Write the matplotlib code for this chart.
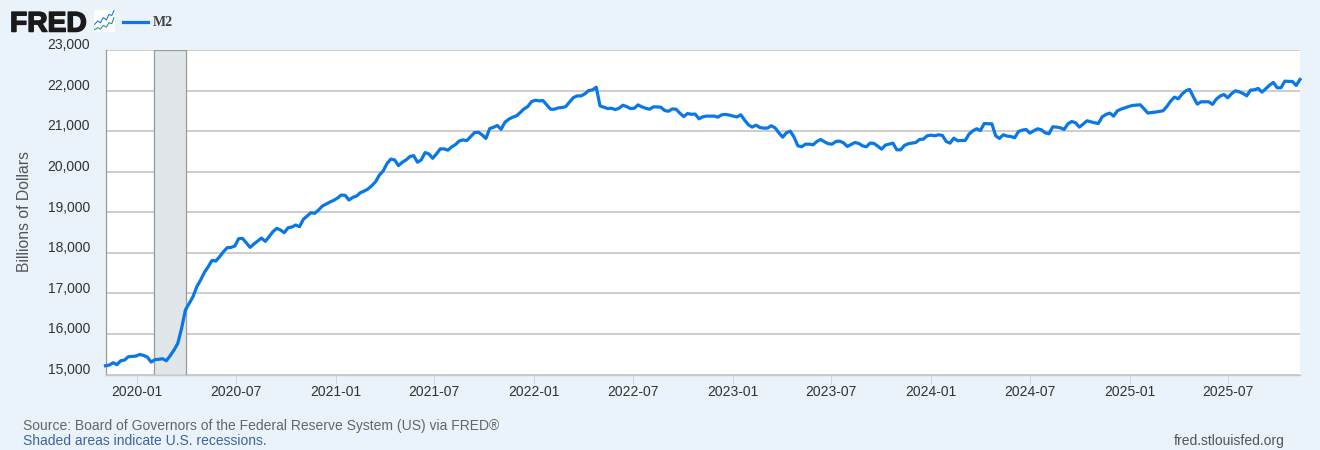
import pandas as pd
import matplotlib
matplotlib.use('Agg')
import matplotlib.pyplot as plt
import matplotlib.patheffects as pe
from matplotlib.patches import Rectangle
from matplotlib.transforms import ScaledTranslation

# weekly M2
start_date = '2019-11-04'
m2 = [15216, 15232, 15290, 15241, 15339, 15356, 15438, 15446, 15454, 15495,
      15470, 15430, 15306, 15364, 15375, 15389, 15339, 15463, 15602, 15767,
      16137, 16589, 16753, 16918, 17164, 17329, 17518, 17657, 17813, 17797,
      17904, 18027, 18126, 18134, 18167, 18348, 18356, 18249, 18134, 18216,
      18290, 18364, 18282, 18397, 18520, 18603, 18562, 18496, 18619, 18636,
      18685, 18644, 18825, 18907, 18989, 18973, 19055, 19153, 19203, 19252,
      19293, 19351, 19425, 19417, 19301, 19367, 19400, 19482, 19523, 19573,
      19655, 19753, 19918, 20020, 20200, 20310, 20290, 20150, 20230, 20290,
      20372, 20397, 20233, 20290, 20471, 20438, 20330, 20438, 20562, 20562,
      20530, 20611, 20668, 20759, 20783, 20767, 20866, 20964, 20973, 20907,
      20820, 21063, 21096, 21137, 21046, 21219, 21293, 21342, 21375, 21457,
      21548, 21605, 21729, 21762, 21745, 21753, 21647, 21540, 21540, 21573,
      21581, 21605, 21720, 21827, 21868, 21868, 21918, 22000, 22016, 22082,
      21622, 21589, 21556, 21564, 21531, 21564, 21638, 21605, 21556, 21564,
      21647, 21597, 21564, 21540, 21597, 21597, 21589, 21507, 21490, 21548,
      21540, 21441, 21359, 21433, 21416, 21420, 21304, 21353, 21370, 21370,
      21370, 21345, 21403, 21411, 21395, 21370, 21350, 21403, 21271, 21156,
      21099, 21148, 21090, 21074, 21074, 21132, 21082, 20959, 20852, 20959,
      21000, 20852, 20638, 20614, 20679, 20679, 20663, 20745, 20794, 20737,
      20688, 20679, 20745, 20753, 20712, 20622, 20671, 20720, 20696, 20638,
      20614, 20704, 20696, 20630, 20556, 20655, 20679, 20704, 20540, 20540,
      20647, 20688, 20704, 20720, 20794, 20803, 20885, 20901, 20885, 20910,
      20893, 20745, 20704, 20827, 20762, 20770, 20770, 20926, 21008, 21058,
      21016, 21189, 21181, 21181, 20885, 20819, 20910, 20877, 20868, 20836,
      20992, 21025, 21041, 20951, 21008, 21058, 21033, 20959, 20934, 21107,
      21099, 21082, 21041, 21181, 21238, 21205, 21099, 21173, 21255, 21230,
      21205, 21189, 21353, 21411, 21444, 21370, 21501, 21543, 21575, 21608,
      21633, 21641, 21649, 21551, 21444, 21460, 21469, 21485, 21501, 21608,
      21740, 21838, 21797, 21912, 21995, 22028, 21838, 21666, 21723, 21723,
      21723, 21658, 21789, 21863, 21904, 21822, 21921, 21995, 21970, 21929,
      21871, 22011, 22019, 22052, 21962, 22044, 22134, 22200, 22069, 22069,
      22233, 22225, 22225, 22126, 22274]

y_ticks = [15000, 16000, 17000, 18000, 19000, 20000, 21000, 22000, 23000]
x_ticks = ['2020-01', '2020-07', '2021-01', '2021-07', '2022-01', '2022-07', '2023-01',
           '2023-07', '2024-01', '2024-07', '2025-01', '2025-07']
recession = ['2020-02-01', '2020-04-01']

# little logo chart
icon_x = [0.05, 0.2, 0.32, 0.45, 0.6, 0.72, 0.85, 0.95]
icon_blue = [0.35, 0.5, 0.42, 0.65, 0.55, 0.8, 0.75, 0.97]
icon_green = [0.1, 0.2, 0.13, 0.3, 0.22, 0.42, 0.38, 0.65]

bg = '#eaf2fa'
line_color = '#0a77e6'
font = 'Liberation Sans'
W, H = 1320, 450

dates = pd.date_range(start_date, periods=len(m2), freq='7D')

fig = plt.figure(figsize=(W / 100, H / 100), dpi=100, facecolor=bg)
plt.rcParams['font.family'] = font


def px(x, y):
    return x / W, 1 - y / H


ax = fig.add_axes([105.5 / W, 1 - 374.5 / H, 1194.5 / W, 324.5 / H])
ax.set_xlim(dates[0], dates[-1])
ax.set_ylim(15000, 23000)
ax.set_axisbelow(True)

ax.grid(axis='y', color='#c0c0c0', lw=1.1)
ax.axvspan(pd.Timestamp(recession[0]), pd.Timestamp(recession[1]), facecolor='#e1e6ea',
           edgecolor='#9a9a9a', lw=0.9, zorder=1.5)
ax.plot(dates, m2, color=line_color, lw=2.3, solid_joinstyle='round', zorder=3, clip_on=False)

for s in ['top', 'right']:
    ax.spines[s].set_visible(False)
ax.spines['left'].set_color('#9a9a9a')
ax.spines['left'].set_linewidth(0.9)
ax.spines['bottom'].set_color('#c0c8d0')
ax.spines['bottom'].set_linewidth(1.0)

ax.set_xticks([pd.Timestamp(t + '-01') for t in x_ticks])
ax.set_xticklabels(x_ticks, fontsize=10, color='#333333', fontfamily=font)
ax.tick_params(axis='x', length=6.5, width=0.7, color='#ccd6eb', pad=0.8)

ax.set_yticks(y_ticks)
ax.set_yticklabels(['{:,}'.format(v) for v in y_ticks], fontsize=10, color='#333333',
                   fontfamily=font)
ax.tick_params(axis='y', length=0, pad=11)
for lab in ax.get_yticklabels():
    lab.set_transform(lab.get_transform() + ScaledTranslation(0, 6.2 / 100, fig.dpi_scale_trans))

fig.text(*px(25, 212), 'Billions of Dollars', rotation=90, ha='center', va='center',
         fontsize=11.3, color='#555555', fontfamily=font)

# header: logo, icon, legend
fig.text(*px(10, 31.5), 'FRED', fontsize=20.3, fontweight='bold', color='#1a1a1a',
         family='Liberation Sans', ha='left', va='baseline',
         path_effects=[pe.withStroke(linewidth=1.1, foreground='#1a1a1a')])

icon = fig.add_axes([93.5 / W, 1 - 32 / H, 21.5 / W, 22 / H])
icon.set_xlim(0, 1)
icon.set_ylim(0, 1)
icon.axis('off')
icon.add_patch(Rectangle((0, 0), 1, 1, facecolor='white', edgecolor='none'))
icon.plot(icon_x, icon_blue, color='#1f77d8', lw=0.8)
icon.plot(icon_x, icon_green, color='#1f9a85', lw=0.8)

fig.add_artist(plt.Line2D([123 / W, 148 / W], [1 - 22 / H, 1 - 22 / H], color=line_color, lw=2.3))
fig.text(*px(153, 22), 'M2', fontsize=10, fontweight='bold', color='#444444',
         family='Liberation Serif', ha='left', va='center')

# footer
fig.text(*px(23, 430), 'Source: Board of Governors of the Federal Reserve System (US) via FRED®',
         fontsize=10.03, color='#666666', fontfamily=font, ha='left', va='baseline')
fig.text(*px(23, 445), 'Shaded areas indicate U.S. recessions.', fontsize=10.03, color='#3b64a5',
         fontfamily=font, ha='left', va='baseline')
fig.text(*px(1285, 445), 'fred.stlouisfed.org', fontsize=10.03, color='#555555', fontfamily=font,
         ha='right', va='baseline')

fig.savefig('out.png', dpi=100, facecolor=bg)
